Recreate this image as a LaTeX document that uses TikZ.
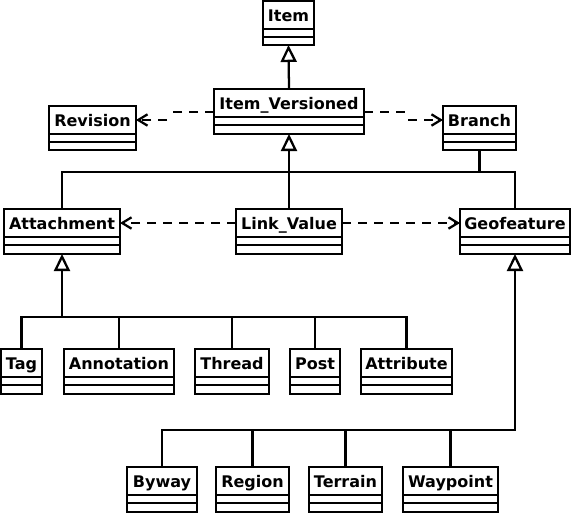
\documentclass[tikz,border=0pt]{standalone}
\usepackage{fontspec}
\setmainfont{DejaVu Sans}
\usetikzlibrary{arrows.meta,calc,fit}
\tikzset{
  cls/.style={draw, line width=1.7pt, inner sep=0pt, outer sep=0pt},
  lbl/.style={anchor=base, inner sep=0pt, font=\fontsize{12}{14}\selectfont\bfseries},
  sepline/.style={line width=1.7pt},
  conn/.style={line width=1.7pt},
  tree/.style={conn, line cap=rect},
  gen/.style={conn, -{Triangle[open,length=12.75pt,width=12pt,line width=1.7pt]}},
  dep/.style={conn, dash pattern=on 6.75pt off 5.25pt, -{Straight Barb[length=7pt,width=8.5pt,line width=1.7pt]}},
}
\newcommand{\umlclass}[6]{%
  \node[cls, fit={(#2,#3) (#4,#5)}] (#1) {};
  \node[lbl] (#1-l) at ($(#1.north)+(0,20)$) {#6};
  \draw[sepline] ($(#1.north west)+(0,28)$) -- ($(#1.north east)+(0,28)$);
  \draw[sepline] ($(#1.north west)+(0,36)$) -- ($(#1.north east)+(0,36)$);
}
\begin{document}
\begin{tikzpicture}[x=0.75pt,y=-0.75pt]
\useasboundingbox (0,0) rectangle (574,515);
\umlclass{item}{263}{1}{314}{45}{Item}
\umlclass{iv}{214}{89}{364}{134}{Item\_Versioned}
\umlclass{rev}{49}{106}{136}{150}{Revision}
\umlclass{br}{443}{106}{516}{150}{Branch}
\umlclass{att}{4}{209}{120}{254}{Attachment}
\umlclass{lv}{236}{209}{342}{254}{Link\_Value}
\umlclass{geo}{460}{209}{570}{254}{Geofeature}
\umlclass{tag}{1}{349}{42}{394}{Tag}
\umlclass{ann}{64}{349}{174}{394}{Annotation}
\umlclass{thr}{195}{349}{269}{394}{Thread}
\umlclass{post}{290}{349}{340}{394}{Post}
\umlclass{attr}{361}{349}{452}{394}{Attribute}
\umlclass{byway}{127}{467}{197}{512}{Byway}
\umlclass{region}{216}{467}{289}{512}{Region}
\umlclass{terrain}{309}{467}{382}{512}{Terrain}
\umlclass{wp}{403}{467}{498}{512}{Waypoint}
% top generalization
\draw[gen] (iv.north) -- (item.south);
% dependencies (with a small jog, as in the reference)
\draw[dep] ($(iv.north west)+(0,23)$) -- ++(-41,0) ++(-6,8) -- ($(rev.north east)+(0,14)$);
\draw[dep] ($(iv.north east)+(0,23)$) -- ++(41,0) ++(3,8) -- ($(br.north west)+(0,14)$);
\draw[dep] ($(lv.north west)+(0,14)$) -- ($(att.north east)+(0,14)$);
\draw[dep] ($(lv.north east)+(0,14)$) -- ($(geo.north west)+(0,14)$);
% generalization to Item_Versioned
\coordinate (j1) at (0,172);
\draw[gen] (lv.north) -- (iv.south);
\draw[conn] (att.north) -- (att.north |- j1) -- (geo.north |- j1) -- (geo.north);
\draw[tree] (br.south) -- (br.south |- j1);
% Attachment subclasses
\coordinate (j2) at (62,317);
\draw[gen] (att.south |- j2) -- (att.south);
\draw[conn] (tag.north) -- (tag.north |- j2) -- (attr.north |- j2) -- (attr.north);
\draw[tree] (ann.north) -- (ann.north |- j2);
\draw[tree] (thr.north) -- (thr.north |- j2);
\draw[tree] (post.north) -- (post.north |- j2);
% Geofeature subclasses
\coordinate (j3) at (0,430);
\draw[gen] (geo.south |- j3) -- (geo.south);
\draw[tree] (byway.north) -- (byway.north |- j3) -- (geo.south |- j3);
\draw[tree] (region.north) -- (region.north |- j3);
\draw[tree] (terrain.north) -- (terrain.north |- j3);
\draw[tree] (wp.north) -- (wp.north |- j3);
\end{tikzpicture}
\end{document}
